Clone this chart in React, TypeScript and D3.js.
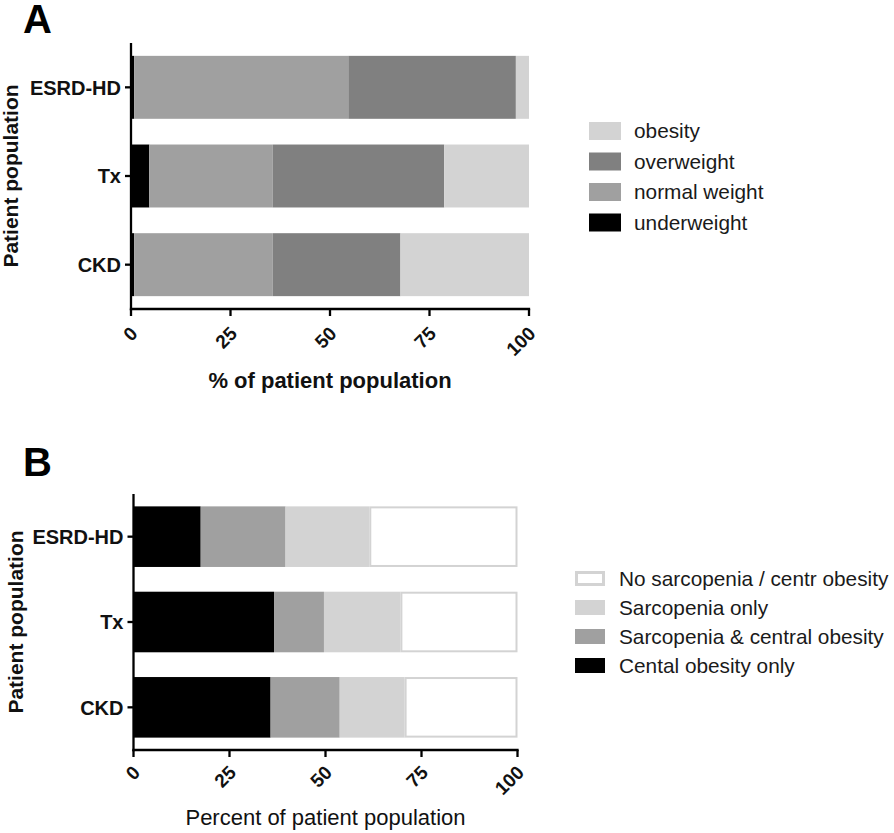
import React from "react";
import * as d3 from "d3";

// ---------- DATA ----------
const categories = ["ESRD-HD", "Tx", "CKD"];
const xTicks = [0, 25, 50, 75, 100];

// Panel A: BMI classes (% of patient population)
const bmiKeys = ["underweight", "normal weight", "overweight", "obesity"];
const underweight = [0.8, 4.6, 0.8];
const normalWeight = [53.8, 31.0, 34.8];
const overweight = [42.1, 43.1, 32.1];
const obesity = [3.3, 21.3, 32.3];

// Panel B: sarcopenia / central obesity (% of patient population)
const sarcKeys = [
  "Cental obesity only",
  "Sarcopenia & central obesity",
  "Sarcopenia only",
  "No sarcopenia / centr obesity",
];
const centralOnly = [17.5, 36.6, 35.7];
const sarcCentral = [22.1, 13.0, 18.0];
const sarcOnly = [21.8, 19.9, 16.9];
const noSarc = [38.6, 30.5, 29.4];

const FONT = "'Liberation Sans', Arial, Helvetica, sans-serif";

type SeriesStyle = { fill: string; stroke?: string };

type PanelProps = {
  letter: string;
  letterY: number;
  keys: string[];
  values: number[][];
  styles: SeriesStyle[];
  x0: number;
  x1: number;
  yTop: number;
  yBottom: number;
  xTitle: string;
  xTitleBold: boolean;
  xTitleY: number;
  yTitleX: number;
  legendX: number;
  legendY: number;
  legendStep: number;
  swatchW: number;
  swatchH: number;
  legendTextX: number;
  tickDy: number;
};

function Panel(p: PanelProps) {
  const rows = categories.map((c, i) => {
    const r: any = { cat: c };
    p.keys.forEach((k, j) => (r[k] = p.values[j][i]));
    return r;
  });
  const stack = d3.stack<any>().keys(p.keys)(rows);
  const x = d3.scaleLinear().domain([0, 100]).range([p.x0, p.x1]);
  const y = d3
    .scaleBand<string>()
    .domain(categories)
    .range([p.yTop, p.yBottom])
    .paddingInner(0.29)
    .paddingOuter(0.145);
  const axisW = 2.3;
  const legendOrder = p.keys.map((k, i) => i).reverse();

  return (
    <g>
      <text x={23} y={p.letterY} fontFamily={FONT} fontWeight="bold" fontSize={40}>
        {p.letter}
      </text>
      {stack.map((s, si) =>
        s.map((d, di) => {
          const st = p.styles[si];
          const xs = x(d[0]);
          const w = x(d[1]) - x(d[0]);
          const yy = y(categories[di]) as number;
          const h = y.bandwidth();
          if (st.stroke) {
            return (
              <rect
                key={`${si}-${di}`}
                x={xs + 1}
                y={yy + 1}
                width={Math.max(0, w - 2)}
                height={h - 2}
                fill={st.fill}
                stroke={st.stroke}
                strokeWidth={2}
              />
            );
          }
          return (
            <rect
              key={`${si}-${di}`}
              x={xs}
              y={yy}
              width={w}
              height={h}
              fill={st.fill}
            />
          );
        })
      )}
      {/* y axis */}
      <line x1={p.x0} x2={p.x0} y1={p.yTop} y2={p.yBottom + axisW / 2} stroke="#000" strokeWidth={axisW} />
      {categories.map((c) => {
        const cy = (y(c) as number) + y.bandwidth() / 2;
        return (
          <g key={c}>
            <line x1={p.x0 - 6} x2={p.x0} y1={cy} y2={cy} stroke="#000" strokeWidth={axisW} />
            <text
              x={p.x0 - 10}
              y={cy}
              dy="0.36em"
              textAnchor="end"
              fontFamily={FONT}
              fontWeight="bold"
              fontSize={20}
              fill="#111"
            >
              {c}
            </text>
          </g>
        );
      })}
      {/* x axis */}
      <line x1={p.x0 - axisW / 2} x2={p.x1 + axisW / 2} y1={p.yBottom} y2={p.yBottom} stroke="#000" strokeWidth={axisW} />
      {xTicks.map((t) => (
        <g key={t}>
          <line x1={x(t)} x2={x(t)} y1={p.yBottom} y2={p.yBottom + 7} stroke="#000" strokeWidth={axisW} />
          <text
            transform={`translate(${x(t) + 3},${p.yBottom + p.tickDy}) rotate(-45)`}
            dy="0.35em"
            textAnchor="end"
            fontFamily={FONT}
            fontWeight="bold"
            fontSize={19}
            fill="#111"
          >
            {t}
          </text>
        </g>
      ))}
      <text
        x={(p.x0 + p.x1) / 2}
        y={p.xTitleY}
        textAnchor="middle"
        fontFamily={FONT}
        fontWeight={p.xTitleBold ? "bold" : "normal"}
        fontSize={22}
        fill="#111"
      >
        {p.xTitle}
      </text>
      <text
        transform={`translate(${p.yTitleX},${(p.yTop + p.yBottom) / 2}) rotate(-90)`}
        textAnchor="middle"
        fontFamily={FONT}
        fontWeight="bold"
        fontSize={21}
        fill="#111"
      >
        Patient population
      </text>
      {/* legend */}
      {legendOrder.map((si, li) => {
        const st = p.styles[si];
        const ly = p.legendY + li * p.legendStep;
        return (
          <g key={p.keys[si]}>
            {st.stroke ? (
              <rect x={p.legendX + 1.5} y={ly + 1.5} width={p.swatchW - 3} height={p.swatchH - 3} fill={st.fill} stroke={st.stroke} strokeWidth={3} />
            ) : (
              <rect x={p.legendX} y={ly} width={p.swatchW} height={p.swatchH} fill={st.fill} />
            )}
            <text
              x={p.legendTextX}
              y={ly + p.swatchH / 2}
              dy="0.36em"
              fontFamily={FONT}
              fontSize={20.8}
              fill="#1a1a1a"
            >
              {p.keys[si]}
            </text>
          </g>
        );
      })}
    </g>
  );
}

export default function App() {
  return (
    <svg
      width={894}
      height={833}
      style={{ position: "absolute", left: 0, top: 0, background: "#fff" }}
    >
      <rect width={894} height={833} fill="#fff" />
      <Panel
        letter="A"
        letterY={33}
        keys={bmiKeys}
        values={[underweight, normalWeight, overweight, obesity]}
        styles={[{ fill: "#000" }, { fill: "#a0a0a0" }, { fill: "#808080" }, { fill: "#d3d3d3" }]}
        x0={131}
        x1={529}
        yTop={43}
        yBottom={309}
        xTitle="% of patient population"
        xTitleBold={true}
        xTitleY={388}
        yTitleX={18}
        legendX={589}
        legendY={122}
        legendStep={30.5}
        swatchW={32}
        swatchH={18}
        legendTextX={634}
        tickDy={21}
      />
      <Panel
        letter="B"
        letterY={476}
        keys={sarcKeys}
        values={[centralOnly, sarcCentral, sarcOnly, noSarc]}
        styles={[{ fill: "#000" }, { fill: "#a0a0a0" }, { fill: "#d3d3d3" }, { fill: "#fff", stroke: "#d3d3d3" }]}
        x0={133.5}
        x1={517.5}
        yTop={494}
        yBottom={750}
        xTitle="Percent of patient population"
        xTitleBold={false}
        xTitleY={825}
        yTitleX={23}
        legendX={575}
        legendY={571}
        legendStep={29}
        swatchW={30}
        swatchH={15}
        legendTextX={619}
        tickDy={19}
      />
    </svg>
  );
}
